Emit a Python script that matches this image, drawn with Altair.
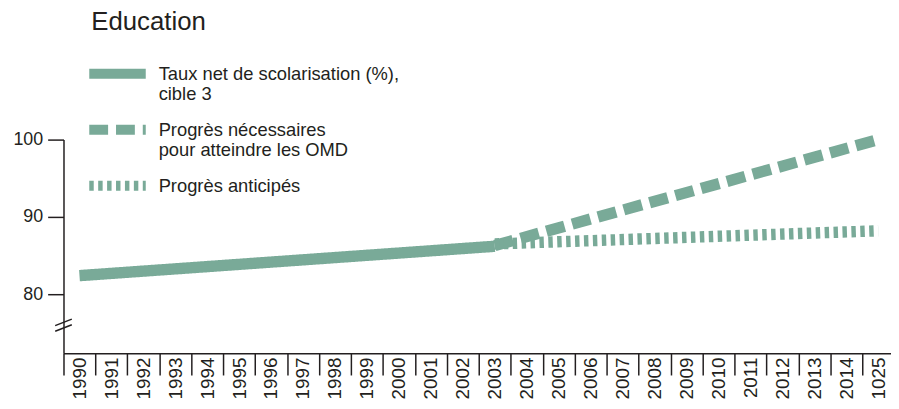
import json
import altair as alt
import pandas as pd

# ---- data ----
years = ["1990", "1991", "1992", "1993", "1994", "1995", "1996", "1997", "1998",
         "1999", "2000", "2001", "2002", "2003", "2004", "2005", "2006", "2007",
         "2008", "2009", "2010", "2011", "2012", "2013", "2014", "1025"]

series_names = [
    "Taux net de scolarisation (%),|cible 3",
    "Progrès nécessaires|pour atteindre les OMD",
    "Progrès anticipés",
]

enrolment_years = ["1990", "2003"]
enrolment_values = [82.4, 86.2]

needed_years = ["2003", "1025"]
needed_values = [86.3, 100.0]

expected_years = ["2003", "1025"]
expected_values = [86.5, 88.2]

y_ticks = [80, 90, 100]
y_domain = [72.37, 100]

# axis-break marks (centre value on the y axis)
break_centers = [76.35, 75.62]

# ---- style ----
COLOR = "#79aa98"
INK = "#231f20"
FONT = "Liberation Sans"

rows = []
for name, yrs, vals in zip(series_names,
                           [enrolment_years, needed_years, expected_years],
                           [enrolment_values, needed_values, expected_values]):
    for yr, v in zip(yrs, vals):
        rows.append({"series": name, "pos": years.index(yr) + 0.5, "value": v})
df = pd.DataFrame(rows)

brk = pd.DataFrame({
    "pos": [-0.26 for _ in break_centers],
    "pos2": [0.26 for _ in break_centers],
    "value": [c - 0.42 for c in break_centers],
    "value2": [c + 0.42 for c in break_centers],
})

x_scale = alt.Scale(domain=[0, 25.9], nice=False, zero=False)
y_scale = alt.Scale(domain=y_domain, nice=False, zero=False)

label_expr = json.dumps(years) + "[datum.value]"
x_axis = alt.Axis(
    title=None, values=list(range(len(years))), labelExpr=label_expr,
    grid=False, domainColor=INK, domainWidth=1.5, tickColor=INK, tickWidth=1.5,
    tickSize=22, labelAngle=270, labelAlign="right", labelBaseline="middle",
    labelOffset=16, labelPadding=-18, labelFont=FONT, labelFontSize=19,
    labelColor=INK, labelOverlap=False, labelFlush=False,
)
y_axis = alt.Axis(
    title=None, values=y_ticks, grid=False, domainColor=INK, domainWidth=1.5,
    tickColor=INK, tickWidth=1.5, tickSize=16, labelPadding=5, labelFont=FONT,
    labelFontSize=18, labelColor=INK,
)

lines = alt.Chart(df).mark_line(color=COLOR, strokeWidth=11.5, strokeCap="butt").encode(
    x=alt.X("pos:Q", scale=x_scale, axis=x_axis),
    y=alt.Y("value:Q", scale=y_scale, axis=y_axis),
    strokeDash=alt.StrokeDash(
        "series:N",
        scale=alt.Scale(domain=series_names, range=[[1, 0], [19, 8], [4.5, 4.5]]),
        legend=alt.Legend(
            title=None, orient="none", legendX=35, legendY=-86, padding=0,
            symbolType="M-2,0H2", symbolSize=812, symbolStrokeWidth=10,
            symbolStrokeColor=COLOR, labelExpr="split(datum.label, '|')",
            labelFont=FONT, labelFontSize=18.5, labelColor=INK, labelLimit=500,
            labelOffset=22, rowPadding=5.5,
        ),
    ),
)

breaks = alt.Chart(brk).mark_rule(color=INK, strokeWidth=1.5).encode(
    x=alt.X("pos:Q", scale=x_scale, axis=x_axis),
    x2="pos2:Q",
    y=alt.Y("value:Q", scale=y_scale, axis=y_axis),
    y2="value2:Q",
)

chart = alt.layer(lines, breaks).properties(
    width=835,
    height=215.5,
    padding={"left": 56, "top": 131, "right": 0, "bottom": 50},
    autosize=alt.AutoSizeParams(type="none"),
    title=alt.TitleParams(
        "Education", anchor="start", frame="group", font=FONT,
        fontSize=26, fontWeight="normal", color=INK, dx=28, offset=20,
    ),
).configure_view(stroke=None)

chart.save("out.html", embed_options={"renderer": "svg", "actions": False})
